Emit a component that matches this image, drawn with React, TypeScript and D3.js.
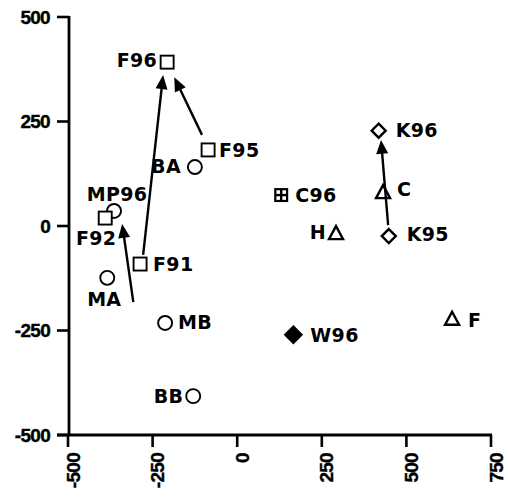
import React from "react";
import * as d3 from "d3";

const xTicks = [-500, -250, 0, 250, 500, 750];
const yTicks = [-500, -250, 0, 250, 500];

const names = ["F96", "F95", "BA", "MP96", "F92", "F91", "MA", "MB", "BB", "C96", "H", "C", "K96", "K95", "W96", "F"];
const xs = [-207, -86, -125, -364, -390, -287, -384, -213, -130, 130, 292, 431, 418, 448, 166, 635];
const ys = [392, 182, 141, 36, 19, -91, -124, -232, -407, 74, -17, 81, 228, -24, -260, -222];
const shapes = ["square", "square", "circle", "circle", "square", "square", "circle", "circle", "circle", "grid", "triangle", "triangle", "diamond", "diamond", "fdiamond", "triangle"];

// arrows in data units
const arrowFromX = [-278, -104, -307, 446];
const arrowFromY = [-69, 218, -182, 2];
const arrowToX = [-219, -186, -340, 425];
const arrowToY = [361, 356, 5, 206];

// label placement (pixels relative to marker)
const labelAnchor = ["end", "start", "end", "middle", "middle", "start", "middle", "start", "end", "start", "end", "start", "start", "start", "start", "start"];
const labelDx = [-10, 11, -14, 3, -9, 13, -3, 13, -10, 14, -10, 14, 17, 18, 17, 16];
const labelDy = [-2, 0, -1, -17, 20, 0, 21, -1, 0, 0, -1, -3, -1, -2, 0, 1];

const W = 508;
const H = 503;

export default function App() {
  const x = d3.scaleLinear().domain([-500, 750]).range([68, 491]);
  const y = d3.scaleLinear().domain([-500, 500]).range([435, 17]);
  const ax = x(-500) + 1;
  const ay = y(-500);

  const marker = (s: string, cx: number, cy: number, i: number) => {
    const sw = 1.9;
    if (s === "square") {
      const h = 6.5;
      return <rect key={i} x={cx - h} y={cy - h} width={2 * h} height={2 * h} fill="#fff" stroke="#000" strokeWidth={sw} />;
    }
    if (s === "circle") {
      return <circle key={i} cx={cx} cy={cy} r={7} fill="#fff" stroke="#000" strokeWidth={sw} />;
    }
    if (s === "triangle") {
      const p = d3.path();
      p.moveTo(cx, cy - 7);
      p.lineTo(cx + 7, cy + 6);
      p.lineTo(cx - 7, cy + 6);
      p.closePath();
      return <path key={i} d={p.toString()} fill="#fff" stroke="#000" strokeWidth={2.4} strokeLinejoin="miter" />;
    }
    if (s === "diamond" || s === "fdiamond") {
      const r = s === "fdiamond" ? 8 : 7;
      const p = d3.path();
      p.moveTo(cx, cy - r);
      p.lineTo(cx + r, cy);
      p.lineTo(cx, cy + r);
      p.lineTo(cx - r, cy);
      p.closePath();
      return <path key={i} d={p.toString()} fill={s === "fdiamond" ? "#000" : "#fff"} stroke="#000" strokeWidth={2.4} />;
    }
    const h = 7;
    const g = 3.6;
    return (
      <g key={i}>
        <rect x={cx - h} y={cy - h} width={2 * h} height={2 * h} fill="#000" />
        <rect x={cx - h + 2.2} y={cy - h + 2.2} width={g} height={g} fill="#fff" />
        <rect x={cx + 1.2} y={cy - h + 2.2} width={g} height={g} fill="#fff" />
        <rect x={cx - h + 2.2} y={cy + 1.2} width={g} height={g} fill="#fff" />
        <rect x={cx + 1.2} y={cy + 1.2} width={g} height={g} fill="#fff" />
      </g>
    );
  };

  const arrow = (i: number) => {
    const x0 = x(arrowFromX[i]);
    const y0 = y(arrowFromY[i]);
    const x1 = x(arrowToX[i]);
    const y1 = y(arrowToY[i]);
    const ang = Math.atan2(y1 - y0, x1 - x0);
    const L = 14;
    const hw = 6;
    const bx = x1 - L * Math.cos(ang);
    const by = y1 - L * Math.sin(ang);
    const nx = -Math.sin(ang);
    const ny = Math.cos(ang);
    const p = d3.path();
    p.moveTo(x1, y1);
    p.lineTo(bx + hw * nx, by + hw * ny);
    p.lineTo(bx - hw * nx, by - hw * ny);
    p.closePath();
    return (
      <g key={"a" + i}>
        <line x1={x0} y1={y0} x2={bx + 2 * Math.cos(ang)} y2={by + 2 * Math.sin(ang)} stroke="#000" strokeWidth={2.4} />
        <path d={p.toString()} fill="#000" />
      </g>
    );
  };

  const labelFont = "'DejaVu Sans', sans-serif";
  const tickFont = "'Liberation Sans', Arial, sans-serif";

  return (
    <svg width={W} height={H} style={{ position: "absolute", left: 0, top: 0, background: "#fff" }}>
      <rect width={W} height={H} fill="#fff" />
      <line x1={ax} y1={y(500) - 1} x2={ax} y2={ay + 1} stroke="#000" strokeWidth={2.8} />
      <line x1={ax - 12} y1={ay} x2={x(750) + 1} y2={ay} stroke="#000" strokeWidth={2.8} />
      {yTicks.map((t) => (
        <g key={"yt" + t}>
          <line x1={ax - 12} x2={ax} y1={y(t)} y2={y(t)} stroke="#000" strokeWidth={2.6} />
          <text x={50} y={y(t)} textAnchor="end" dominantBaseline="central" fontFamily={tickFont} fontWeight="bold" fontSize={19} letterSpacing={-0.7} stroke="#000" strokeWidth={0.4}>
            {t}
          </text>
        </g>
      ))}
      {xTicks.map((t) => (
        <g key={"xt" + t}>
          <line x1={x(t)} x2={x(t)} y1={ay} y2={ay + 12} stroke="#000" strokeWidth={2.6} />
          <text
            transform={`translate(${x(t) + 5},${453}) rotate(-90)`}
            textAnchor="end"
            dominantBaseline="central"
            fontFamily={tickFont}
            fontWeight="bold"
            fontSize={19}
            letterSpacing={-0.7}
            stroke="#000"
            strokeWidth={0.4}
          >
            {t}
          </text>
        </g>
      ))}
      {names.map((n, i) => marker(shapes[i], x(xs[i]), y(ys[i]), i))}
      {names.map((n, i) => (
        <text
          key={"l" + i}
          x={x(xs[i]) + labelDx[i]}
          y={y(ys[i]) + labelDy[i]}
          textAnchor={labelAnchor[i] as any}
          dominantBaseline="central"
          fontFamily={labelFont}
          fontWeight="bold"
          fontSize={19}
          letterSpacing={0.3}
        >
          {n}
        </text>
      ))}
      {arrowFromX.map((_, i) => arrow(i))}
    </svg>
  );
}
